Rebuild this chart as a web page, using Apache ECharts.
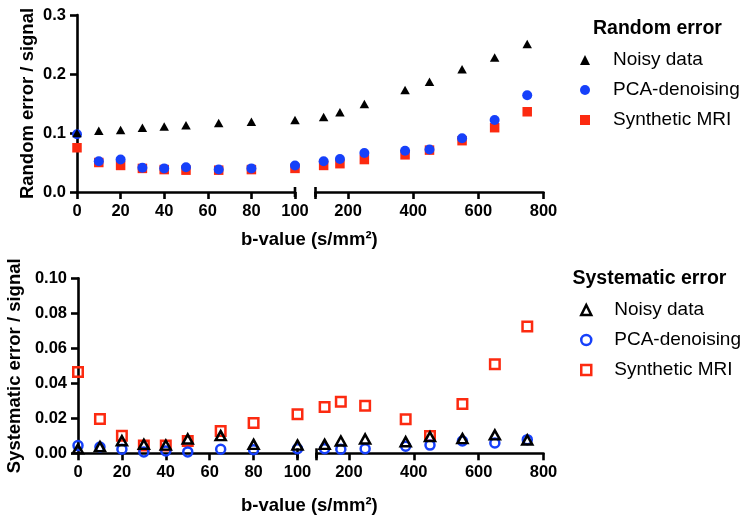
<!DOCTYPE html>
<html><head><meta charset="utf-8">
<script src="https://cdn.jsdelivr.net/npm/echarts@6/dist/echarts.min.js"></script>
<style>html,body{margin:0;padding:0;background:#fff}#c{width:752px;height:522px}</style>
</head><body><div id="c"></div>
<script>
// ---- data ----
const bValues = [0, 10, 20, 30, 40, 50, 65, 80, 100, 125, 175, 250, 375, 450, 550, 650, 750];
const randomNoisy = [0.100, 0.104, 0.105, 0.109, 0.111, 0.113, 0.117, 0.119, 0.122, 0.127, 0.135, 0.149, 0.173, 0.187, 0.208, 0.228, 0.251];
const randomPCA   = [0.098, 0.052, 0.055, 0.041, 0.040, 0.042, 0.038, 0.040, 0.045, 0.052, 0.056, 0.066, 0.070, 0.072, 0.091, 0.122, 0.164];
const randomSynth = [0.075, 0.050, 0.045, 0.040, 0.038, 0.037, 0.037, 0.038, 0.040, 0.045, 0.048, 0.055, 0.063, 0.071, 0.087, 0.109, 0.136];
const sysNoisy = [0.0025, 0.0038, 0.0072, 0.0051, 0.0047, 0.0082, 0.0101, 0.0051, 0.0047, 0.0051, 0.0070, 0.0082, 0.0066, 0.0095, 0.0084, 0.0105, 0.0076];
const sysPCA   = [0.0044, 0.0036, 0.0023, 0.0008, 0.0013, 0.0008, 0.0023, 0.0021, 0.0026, 0.0026, 0.0023, 0.0026, 0.0040, 0.0047, 0.0070, 0.0059, 0.0078];
const sysSynth = [0.0465, 0.0196, 0.0101, 0.0044, 0.0044, 0.0070, 0.0127, 0.0173, 0.0223, 0.0265, 0.0295, 0.0272, 0.0194, 0.0099, 0.0282, 0.0509, 0.0724];
const leftTicks = [0, 20, 40, 60, 80, 100];
const rightTicks = [200, 400, 600, 800];
const randomYTicks = [0, 0.1, 0.2, 0.3];
const sysYTicks = [0, 0.02, 0.04, 0.06, 0.08, 0.10];
const seriesNames = ['Noisy data', 'PCA-denoising', 'Synthetic MRI'];
const xTitle = 'b-value (s/mm²)';
const yTitles = ['Random error / signal', 'Systematic error / signal'];
const legendTitles = ['Random error', 'Systematic error'];

// ---- styling ----
const FONT = 'Liberation Sans, Arial, Helvetica, sans-serif';
const BLUE = '#1640fa', RED = '#fc2a10', BLACK = '#000';
const AXW = 2.6;
const chart = echarts.init(document.getElementById('c'), null, {renderer: 'canvas'});

const grids = [
  {left: 77, top: 15, width: 218, height: 177},
  {left: 315.5, top: 15, width: 228, height: 177},
  {left: 78, top: 278.3, width: 219.5, height: 175},
  {left: 316.5, top: 278.3, width: 227, height: 175}
].map(g => Object.assign({outerBoundsMode: 'none', containLabel: false}, g));

const axisLabelStyle = {fontFamily: FONT, fontWeight: 'bold', fontSize: 16.5, color: BLACK};
function xAxisFor(gridIndex, isLeft) {
  const ax = {
    type: 'value', gridIndex,
    min: isLeft ? leftTicks[0] : leftTicks[leftTicks.length - 1],
    max: isLeft ? leftTicks[leftTicks.length - 1] : rightTicks[rightTicks.length - 1],
    splitLine: {show: false},
    axisLine: {show: true, onZero: false, lineStyle: {color: BLACK, width: AXW},
      symbol: isLeft ? ['none', 'rect'] : ['rect', 'none'], symbolSize: [10, AXW]},
    axisTick: {show: true, length: 7, lineStyle: {color: BLACK, width: AXW}},
    axisLabel: Object.assign({margin: 11}, axisLabelStyle)
  };
  if (isLeft) {
    ax.interval = leftTicks[1] - leftTicks[0];
  } else {
    ax.axisTick.customValues = [leftTicks[leftTicks.length - 1]].concat(rightTicks);
    ax.axisLabel.customValues = rightTicks;
  }
  return ax;
}
function yAxisFor(gridIndex, ticks, show, name, gap, digits) {
  return {
    type: 'value', gridIndex, show,
    min: ticks[0], max: ticks[ticks.length - 1], interval: ticks[1] - ticks[0],
    splitLine: {show: false},
    axisLine: {show: true, lineStyle: {color: BLACK, width: AXW}},
    axisTick: {show: true, length: 7, lineStyle: {color: BLACK, width: AXW}},
    axisLabel: Object.assign({margin: 11, formatter: v => v.toFixed(digits)}, axisLabelStyle),
    name: show ? name : '', nameLocation: 'middle', nameGap: gap, nameRotate: 90,
    nameTextStyle: {fontFamily: FONT, fontWeight: 'bold', fontSize: 18.5, color: BLACK}
  };
}

const panels = [
  {vals: [randomNoisy, randomPCA, randomSynth], filled: true, grids: [0, 1]},
  {vals: [sysNoisy, sysPCA, sysSynth], filled: false, grids: [2, 3]}
];
const symbols = ['triangle', 'circle', 'rect'];
const colors = [BLACK, BLUE, RED];
const sizesFilled = [[9.5, 8.5], 10, 9.5];
const sizesEmpty = [[10, 9], 9, 9.5];
const zs = [5, 4, 3];

function styleFor(i, filled) {
  return filled
    ? {color: colors[i], opacity: 1}
    : {color: 'rgba(255,255,255,0)', borderColor: colors[i], borderWidth: 2.5, opacity: 1};
}

const series = [];
panels.forEach(p => {
  p.vals.forEach((vals, i) => {
    [0, 1].forEach(side => {
      const data = [];
      bValues.forEach((b, k) => {
        const onLeft = b <= leftTicks[leftTicks.length - 1];
        if ((side === 0) === onLeft) data.push([b, vals[k]]);
      });
      series.push({
        type: 'scatter', name: seriesNames[i],
        xAxisIndex: p.grids[side], yAxisIndex: p.grids[side],
        symbol: symbols[i], symbolSize: p.filled ? sizesFilled[i] : sizesEmpty[i],
        itemStyle: styleFor(i, p.filled), z: zs[i],
        emphasis: {disabled: true}, data
      });
    });
  });
});

function legendFor(top, filled) {
  return {
    orient: 'vertical', left: 580, top, padding: 0,
    itemWidth: 10, itemHeight: 10, itemGap: 10,
    selectedMode: false,
    textStyle: {fontFamily: FONT, fontSize: 19, lineHeight: 20, color: BLACK, padding: [0, 0, 0, 18]},
    data: seriesNames.map((n, i) => ({name: n, icon: symbols[i], itemStyle: styleFor(i, filled)}))
  };
}

const titleStyle = {fontFamily: FONT, fontWeight: 'bold', color: BLACK};
chart.setOption({
  animation: false,
  backgroundColor: '#fff',
  grid: grids,
  xAxis: [xAxisFor(0, true), xAxisFor(1, false), xAxisFor(2, true), xAxisFor(3, false)],
  yAxis: [
    yAxisFor(0, randomYTicks, true, yTitles[0], 40, 1),
    yAxisFor(1, randomYTicks, false, '', 0, 1),
    yAxisFor(2, sysYTicks, true, yTitles[1], 54, 2),
    yAxisFor(3, sysYTicks, false, '', 0, 2)
  ],
  title: [
    {text: legendTitles[0], left: 593, top: 19, padding: 0, textStyle: Object.assign({fontSize: 19.5, lineHeight: 20}, titleStyle)},
    {text: legendTitles[1], left: 572.5, top: 269, padding: 0, textStyle: Object.assign({fontSize: 19.5, lineHeight: 20}, titleStyle)},
    {text: xTitle, left: 241, top: 230, padding: 0, textStyle: Object.assign({fontSize: 18.5, lineHeight: 19}, titleStyle)},
    {text: xTitle, left: 241, top: 496, padding: 0, textStyle: Object.assign({fontSize: 18.5, lineHeight: 19}, titleStyle)}
  ],
  legend: [legendFor(50, true), legendFor(300, false)],
  series
});
</script></body></html>
